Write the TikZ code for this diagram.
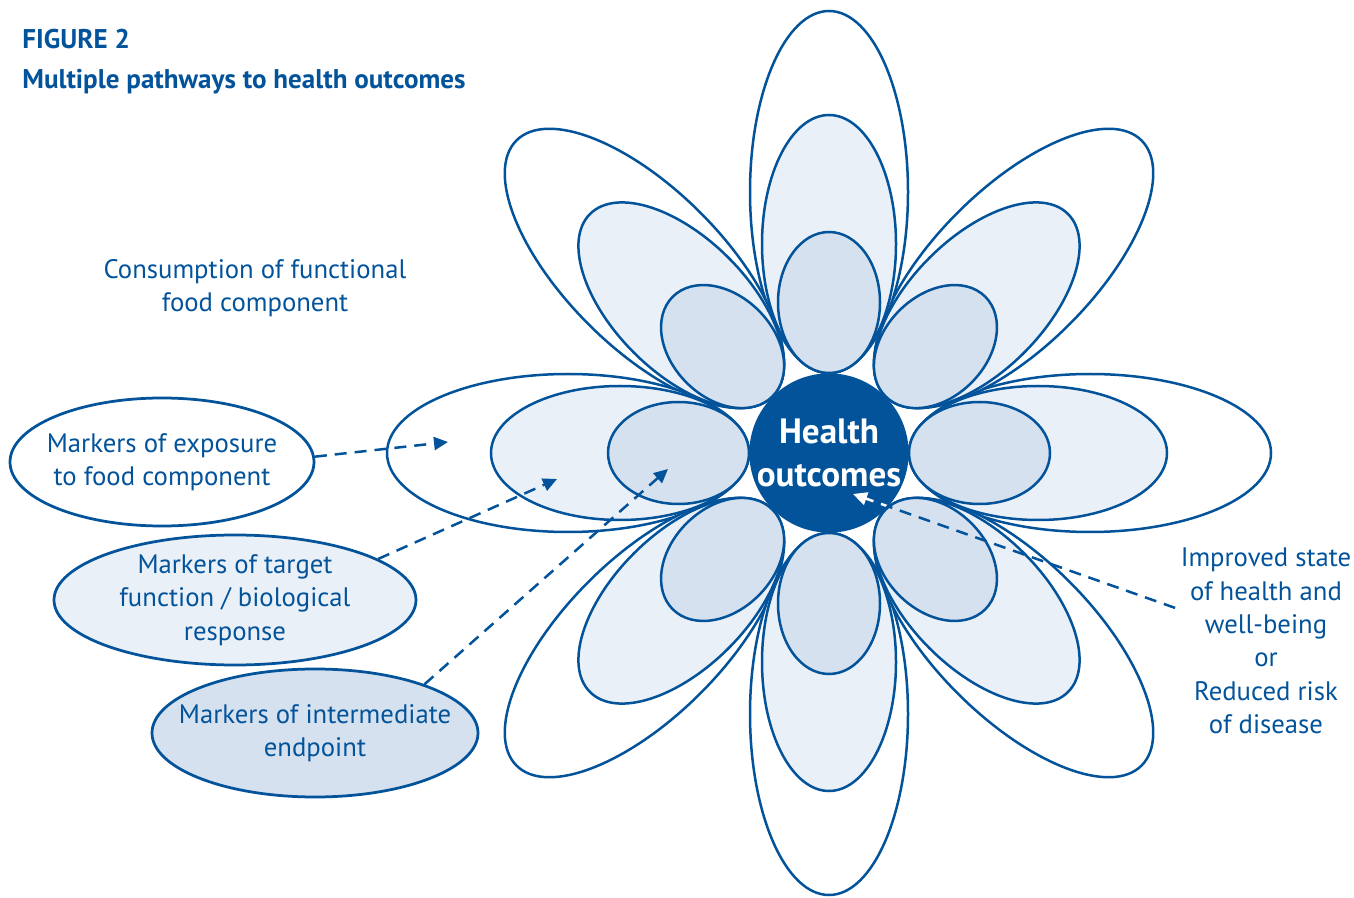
\documentclass[tikz,border=0pt]{standalone}
\usepackage{fontspec}
\setmainfont{PT Sans}
\usetikzlibrary{shapes,arrows.meta,positioning,calc}
\definecolor{fao}{HTML}{03539B}
\definecolor{petalmid}{HTML}{EAF0F7}
\definecolor{petalin}{HTML}{D5E1EE}

\begin{document}
\begin{tikzpicture}[x=0.2mm, y=0.2mm,
  petal/.style={draw=fao, line width=0.5mm},
  marker/.style={ellipse, draw=fao, line width=0.55mm, inner xsep=-6mm, inner ysep=-4mm, text=fao, align=center, font=\fontsize{15.2}{19}\selectfont},
  note/.style={text=fao, align=center, inner sep=3pt, font=\fontsize{15.2}{19}\selectfont},
  heading/.style={anchor=base west, text=fao, inner sep=0pt, font=\fontsize{15.4}{18}\selectfont\bfseries},
  link/.style={draw=fao, line width=0.5mm, dash pattern=on 2.4mm off 1.6mm, -{Triangle[length=2.8mm,width=2.6mm]}}]
\useasboundingbox (0,0) rectangle (1354,897);

\node[heading] (fignum) at (22,848) {FIGURE 2};
\node[heading] (figtitle) at (22,808) {Multiple pathways to health outcomes};

% flower: three rings of petals round the hub
\coordinate (hub) at (829,444);
\foreach \a in {0,45,...,315}
  \draw[petal, fill=white, shift={(hub)}, rotate=\a] (261,0) ellipse [x radius=181, y radius=79];
\foreach \a in {0,45,...,315}
  \draw[petal, fill=petalmid, shift={(hub)}, rotate=\a] (209,0) ellipse [x radius=129, y radius=67];
\foreach \a in {0,45,...,315}
  \draw[petal, fill=petalin, shift={(hub)}, rotate=\a] (150.5,0) ellipse [x radius=70.5, y radius=51];

\node[circle, fill=fao, minimum size=31.2mm, inner sep=0pt, text=white, align=center, font=\fontsize{20}{24}\selectfont\bfseries] (health) at (hub) {Health\\outcomes};

\node[note] (intake) at (255,609) {Consumption of functional\\food component};
\node[note] (improved) at (1266,256) {Improved state\\of health and\\well-being\\or\\Reduced risk\\of disease};

\node[marker, fill=white, minimum width=60.8mm, minimum height=25.6mm] (expo) at (162,435) {Markers of exposure\\to food component};
\node[marker, fill=petalmid, minimum width=72.4mm, minimum height=26mm] (target) at (235,297) {Markers of target\\function / biological\\response};
\node[marker, fill=petalin, minimum width=65.2mm, minimum height=25.6mm] (inter) at (315,164) {Markers of intermediate\\endpoint};

% dashed pointers into the petals
\coordinate (expotip) at (448,455);
\coordinate (targettip) at (557,418);
\coordinate (intertip) at (668,428);
\coordinate (healthtip) at (853,403);
\draw[link] (expo.2) -- (expotip);
\draw[link] (target.16) -- (targettip);
\draw[link] (inter.24) -- (intertip);
\draw[link] (improved.160) -- (healthtip);
\begin{scope}
  \clip (hub) circle [radius=78];
  \draw[link, draw=white] (improved.160) -- (healthtip);
\end{scope}
\end{tikzpicture}
\end{document}
